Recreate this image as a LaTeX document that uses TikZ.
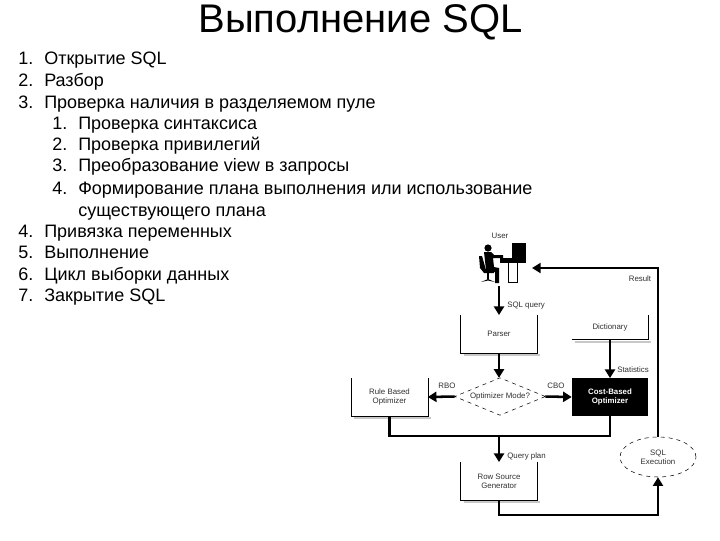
\documentclass[tikz,border=0pt]{standalone}
\usepackage{fontspec}
\setmainfont{Liberation Sans}
\usetikzlibrary{arrows.meta,shapes.geometric}
\definecolor{shadowgray}{HTML}{C8C8C8}
\definecolor{blur}{HTML}{303030}

\begin{document}
\begin{tikzpicture}[
  x=0.75pt, y=-0.75pt,
  title/.style={font=\fontsize{30}{30}\selectfont},
  item/.style={anchor=base west, inner sep=0pt, font=\fontsize{13.5}{16}\selectfont},
  tiny/.style={font=\fontsize{5.9}{7}\selectfont, text=blur, align=center, inner sep=0pt},
  opbox/.style={tiny, minimum width=57pt, minimum height=28pt},
  flow/.style={line width=1.9pt},
  arrow/.style={flow, -{Triangle[length=6.5pt,width=7.5pt]}}
]
  \useasboundingbox (0,0) rectangle (720,540);

  % Title
  \node[title] (head) at (360.5,22) {Выполнение SQL};

  % Numbered list
  \foreach \n/\y/\xn/\xt/\num/\txt in {
    a/64/18/44/1./Открытие SQL,
    b/86/18/44/2./Разбор,
    c/108/18/44/3./Проверка наличия в разделяемом пуле,
    d/129/52/78/1./Проверка синтаксиса,
    e/150/52/78/2./Проверка привилегий,
    f/171/52/78/3./Преобразование view в запросы,
    g/194/52/78/4./Формирование плана выполнения или использование,
    i/237/18/44/4./Привязка переменных,
    j/258/18/44/5./Выполнение,
    k/280/18/44/6./Цикл выборки данных,
    l/301/18/44/7./Закрытие SQL}
  {
    \node[item] (num\n) at (\xn,\y) {\num};
    \node[item] (txt\n) at (\xt,\y) {\txt};
  }
  \node[item] (txth) at (78,216) {существующего плана};

  % User at the desk
  \fill (488,248) circle (3.6);
  \fill (484,252) -- (491,252) -- (494,255) -- (503,255) -- (503,258) -- (493,258)
    -- (494,267) -- (499,268) -- (499,283) -- (495,283) -- (495,272) -- (486,270) -- cycle;
  \fill (479,256) -- (482,256) -- (486,270) -- (494,270) -- (494,273) -- (484,273) -- (480,268) -- cycle;
  \fill (487,273) rectangle (489,279);
  \fill (481,282) -- (488,279) -- (495,282) -- (488,280.5) -- cycle;
  \fill (512,243) rectangle (526,258);
  \fill (500,258) rectangle (526,263);
  \draw[line width=0.7pt] (508.5,263) -- (508.5,282) -- (517.5,282) -- (517.5,263);
  \node[tiny] (user) at (500,236) {User};
  \coordinate (usertop) at (499,286);
  \coordinate (userside) at (532,268);

  % Process boxes
  \node[opbox] (parser) at (499,334) {Parser};
  \node[opbox, minimum height=18pt] (dict) at (610,327) {Dictionary};
  \node[opbox] (rule) at (389.5,397) {Rule Based\\Optimizer};
  \node[opbox] (rowsrc) at (499,481) {Row Source\\Generator};
  \node[opbox, fill=black, text=white, font=\fontsize{5.9}{7}\selectfont\bfseries] (cost) at (610,397) {Cost-Based\\Optimizer};
  \node[tiny, draw, dashed, diamond, aspect=2.5, outer sep=0pt, minimum width=68pt, minimum height=28pt] (mode) at (500,396.5) {Optimizer Mode?};
  \node[tiny, draw, dashed, ellipse, minimum width=57pt, minimum height=30pt] (exec) at (658,457) {SQL\\Execution};

  % Open outlines and shadows
  \foreach \b in {parser,rule,rowsrc} {
    \draw[shadowgray, line width=1.5pt] ([shift={(3,2.5)}]\b.south west) -- ([shift={(3,2.5)}]\b.south east);
    \draw (\b.north west) |- (\b.south east) -- (\b.north east);
  }
  \draw[shadowgray, line width=1.5pt] ([shift={(3,2.5)}]dict.south west) -- ([shift={(3,2.5)}]dict.south east);
  \draw (dict.south west) -- (dict.south east) -- (dict.north east);

  % Arrows
  \coordinate (join) at (499,436);
  \draw[arrow] (usertop) -- (parser.north);
  \draw[arrow] (parser.south) -- (parser.south |- mode.north);
  \draw[arrow] (dict.south) -- (cost.north);
  \draw[arrow] (mode.east) -- (cost.west);
  \draw[arrow] (mode.west) -- (rule.east);
  \draw[flow] (rule.south) |- (join) -| (cost.south);
  \draw[arrow] (join) -- (rowsrc.north);
  \draw[arrow] (rowsrc.south) -- ++(0,15) -| (exec.south);
  \draw[arrow] (exec.north) |- (userside);

  % Labels
  \node[tiny, anchor=west] (sqlq) at (507,306) {SQL query};
  \node[tiny] (result) at (640,279) {Result};
  \node[tiny, anchor=west] (stats) at (617,370) {Statistics};
  \node[tiny] (cbo) at (556,386) {CBO};
  \node[tiny] (rbo) at (447,386) {RBO};
  \node[tiny, anchor=west] (plan) at (507,456) {Query plan};
\end{tikzpicture}
\end{document}
